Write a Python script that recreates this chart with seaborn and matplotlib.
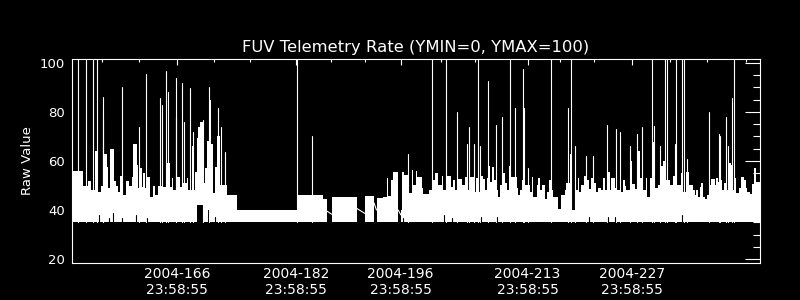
import numpy as np
import pandas as pd
import matplotlib
matplotlib.use("Agg")
import matplotlib.pyplot as plt
import seaborn as sns
from matplotlib.ticker import FixedLocator, FixedFormatter, NullFormatter

# ---------------- data ----------------
title = "FUV Telemetry Rate (YMIN=0, YMAX=100)"
ylabel = "Raw Value"
base_value = 35.0

# upper envelope of the dense telemetry band (step starts, day of year); NaN = data gap
env_day = [151.93, 153.45, 154.12, 154.43, 155.01, 155.46, 155.77, 156.13, 156.58, 156.80,
           157.02, 157.56, 157.78, 158.14, 158.37, 158.72, 159.17, 159.62, 159.93, 160.15,
           160.60, 160.82, 161.05, 161.27, 161.49, 161.72, 161.94, 162.39, 162.84, 163.06,
           163.51, 164.18, 164.62, 165.06, 165.28, 165.51, 165.95, 166.40, 166.85, 167.30,
           167.52, 167.97, 168.19, 168.41, 168.64, 168.86, 169.08, 169.53, 169.75, 170.07,
           170.33, 170.51, 170.78, 171.09, 171.41, 171.77, 172.66, 174.00, 182.13, 185.61,
           186.15, 186.73, 190.08, 191.20, 192.40, 192.75, 193.56, 194.10, 194.32, 194.63,
           194.90, 195.66, 196.02, 196.20, 196.46, 197.09, 197.45, 197.67, 197.98, 198.21,
           198.79, 199.01, 199.82, 200.35, 200.58, 201.02, 201.47, 201.69, 202.23, 202.68,
           203.04, 203.26, 203.71, 204.15, 204.60, 204.96, 205.26, 205.93, 206.15, 206.38,
           206.69, 207.05, 207.27, 207.50, 207.85, 208.03, 208.30, 208.48, 208.84, 209.06,
           209.28, 209.73, 209.95, 210.18, 210.53, 210.71, 211.52, 211.74, 211.97, 212.19,
           212.64, 213.31, 213.53, 213.75, 214.20, 214.42, 214.65, 215.00, 215.32, 215.54,
           215.85, 216.21, 216.44, 217.11, 217.55, 218.00, 218.22, 218.66, 218.93, 219.33,
           219.78, 219.91, 220.22, 220.54, 220.81, 220.98, 221.25, 221.57, 221.79, 222.15,
           222.46, 222.91, 223.13, 223.35, 223.71, 224.02, 224.25, 224.69, 224.96, 225.50,
           225.81, 226.04, 226.26, 226.84, 226.97, 227.38, 227.82, 228.05, 228.40, 228.85,
           229.03, 229.39, 229.75, 229.92, 230.10, 230.51, 230.86, 231.18, 231.40, 232.06,
           232.51, 232.95, 233.62, 233.85, 234.30, 234.65, 235.19, 235.41, 235.64, 235.86,
           236.08, 236.31, 236.53, 236.75, 237.07, 237.33, 237.65, 238.10, 238.32, 238.54,
           238.77, 239.12, 239.30, 239.57, 239.75, 240.02, 240.33, 240.55, 240.78, 241.00,
           241.31, 241.67, 241.98, 242.25, 242.47, 242.79, 243.10, 243.32, 243.68, 244.16]
env_top = [56, 50, 52, 48, 64, 47.5, 50, 62.7, 57.7, 49,
           65, 52, 50, 47.5, 54, 46, 52, 50, 53.6, 66.8,
           58.4, 49, 57, 49.5, 55, 49, 53.6, 45.4, 50, 46,
           50, 49.5, 59, 49.5, 53, 48.2, 53.6, 49.5, 51, 53,
           48.2, 66.3, 48.2, 55.7, 69.3, 74, 76, 51, 57, 68,
           84.9, 67, 46.8, 57.7, 70, 50.2, 46, 40, 46, 44.5,
           np.nan, 45.4, np.nan, 45.6, np.nan, 45, 45.4, 53, 45.9, 52.3,
           55.4, np.nan, 40, 55.7, 54.3, 46.8, 56.3, 50.2, 56, 53.6,
           48.9, 46.4, 48.2, 52.3, 55, 50.2, 54, 48.2, 54, 49.5,
           52.3, 48.2, 52.7, 50.2, 53.6, 48.2, 53.6, 47.2, 53, 47.2,
           54, 52.7, 48.2, 53.2, 58, 51.6, 57.7, 52.3, 48.2, 45.4,
           50.2, 55, 50.9, 48.2, 58, 53.6, 48.9, 46.1, 48.2, 52.3,
           50.2, 47.5, 53.6, 45.4, 50.2, 53, 48.2, 50.4, 44.7, 47.5,
           52.3, 48.2, 45.4, 40.4, 46.1, 48.2, 51, 62.9, 40, 48.2,
           53, 47.5, 50.2, 54, 55.4, 52.3, 48.6, 53, 50.9, 47.2,
           48.9, 48.2, 53, 48.2, 55.7, 48.2, 53, 48.9, 48.2, 47.2,
           52.3, 50, 48.2, 60, 50.5, 48.6, 64, 53, 48.2, 53,
           45.4, 53, 67.6, 50, 48.9, 50.2, 58, 60, 52.3, 50.2,
           54, 50.2, 55, 47.2, 55.4, 50.2, 48.2, 46.1, 48.2, 45.4,
           49.5, 50.9, 45.4, 44.5, 46.1, 50.2, 52.7, 50.2, 53, 51.6,
           52.3, 48.2, 50.9, 63.2, 48.2, 59, 58.4, 48.2, 53, 46.8,
           48.9, 53.6, 52.3, 48.9, 47.5, 46.4, 50.5, 57, 51.6, 51.6]

# isolated spikes (day, peak value); 103 = beyond top of axis
spike_day = [152.73, 153.81, 154.78, 155.32, 156.02, 156.15, 158.67, 160.95, 161.91, 163.79,
             163.99, 164.59, 164.79, 165.87, 165.93, 166.74, 166.98, 167.74, 168.18, 169.52,
             170.33, 171.53, 171.86, 172.47, 182.15, 184.16, 196.95, 200.21, 202.09, 203.56,
             204.86, 205.13, 205.80, 206.33, 206.60, 207.67, 208.74, 209.55, 210.62, 211.38,
             212.41, 212.54, 213.07, 216.12, 218.44, 218.84, 219.37, 220.90, 221.79, 223.62,
             224.87, 225.40, 226.74, 227.68, 228.31, 229.65, 230.01, 230.76, 231.49, 231.70,
             232.74, 232.91, 233.77, 234.03, 234.38, 237.33, 238.67, 238.86, 239.66, 239.88,
             240.37, 240.64]
spike_top = [103, 103, 103, 103, 77, 86, 90, 74, 95.5, 85.6,
             83, 96.8, 88, 93.8, 78, 92, 76, 89.7, 71.7, 76.7,
             90, 81.8, 74, 63.8, 103, 70, 63, 103, 103, 80,
             67, 74, 66.8, 103, 66.3, 92.7, 74.7, 78, 103, 81.5,
             97.6, 81.8, 57, 103, 81.8, 103, 66.3, 62.2, 62.2, 74.7,
             73, 71.7, 66.3, 70.9, 74, 103, 74.4, 66.3, 103, 103,
             66.8, 103, 103, 103, 60.8, 79.9, 70.9, 70, 78, 66,
             85.6, 103]

# thin dips from the baseline (day, value reached)
notch_day = [155.59, 156.93, 157.47, 158.68, 160.47, 162.03, 171.09, 196.24, 201.78, 202.90,
             206.82, 208.93, 221.25, 223.80, 224.69, 233.71]
notch_top = [38, 36.6, 38.6, 36.6, 38, 36.6, 37.3, 36.6, 38, 36.6,
             37.3, 37.3, 37.3, 37.3, 37.3, 38]

# wider holes above the baseline
hole_start = [168.68, 170.16]
hole_end = [169.55, 170.49]
hole_top = [42, 40]

# data gaps bridged by a single line
gap_start = [186.15, 190.08, 192.40, 195.66]
gap_end = [186.73, 191.20, 192.75, 196.02]
gap_v0 = [39.5, 40.7, 43, 40]
gap_v1 = [38.3, 38.6, 40, 38]

# axis
xtick_major = [166, 182, 196, 213, 227]
xtick_labels = ["2004-166\n23:58:55", "2004-182\n23:58:55", "2004-196\n23:58:55",
                "2004-213\n23:58:55", "2004-227\n23:58:55"]
xtick_minor = [155.95, 160.91, 170.96, 175.79, 186.64, 191.20, 201.39, 205.95,
               217.34, 221.90, 232.09, 237.05, 242.28]
ytick_major = [20, 40, 60, 80, 100]
ytick_minor = [25, 30, 35, 45, 50, 55, 65, 70, 75, 85, 90, 95]
xlim = (151.93, 244.16)
ylim = (18.4, 101.6)

# ---------------- figure ----------------
sns.set_style("dark")
plt.rcParams["font.family"] = ["DejaVu Sans"]

fig = plt.figure(figsize=(8, 3), dpi=100, facecolor="black")
ax = fig.add_axes([72 / 800, 1 - 263 / 300, 688 / 800, 204 / 300])
ax.set_facecolor("black")
ax.grid(False)

# body of the band, drawn run by run between data gaps
days = np.asarray(env_day, dtype=float)
tops = np.asarray(env_top, dtype=float)
valid = ~np.isnan(tops)
i = 0
n = len(days)
while i < n:
    if not valid[i]:
        i += 1
        continue
    j = i
    while j + 1 < n and valid[j + 1]:
        j += 1
    xs = list(days[i:j + 1])
    ys = list(tops[i:j + 1])
    if j + 1 < n:
        xs.append(days[j + 1])
        ys.append(tops[j])
    ax.fill_between(xs, base_value, ys, step="post", color="white", lw=0, zorder=2)
    i = j + 1

# holes in the band
for s, e, t in zip(hole_start, hole_end, hole_top):
    ax.fill_between([s, e], base_value, t, color="black", lw=0, zorder=3)

# spikes
spk = pd.DataFrame({
    "day": np.repeat(spike_day, 2),
    "value": np.ravel(np.column_stack([np.full(len(spike_top), base_value), spike_top])),
    "id": np.repeat(np.arange(len(spike_day)), 2),
})
sns.lineplot(data=spk, x="day", y="value", units="id", estimator=None, sort=False,
             color="white", lw=0.8, legend=False, ax=ax, zorder=4)

# gap bridges
gp = pd.DataFrame({
    "day": np.ravel(np.column_stack([gap_start, gap_end])),
    "value": np.ravel(np.column_stack([gap_v0, gap_v1])),
    "id": np.repeat(np.arange(len(gap_start)), 2),
})
sns.lineplot(data=gp, x="day", y="value", units="id", estimator=None, sort=False,
             color="white", lw=0.8, legend=False, ax=ax, zorder=4)

# thin dips
nt = pd.DataFrame({
    "day": np.repeat(notch_day, 2),
    "value": np.ravel(np.column_stack([np.full(len(notch_top), base_value - 0.3), notch_top])),
    "id": np.repeat(np.arange(len(notch_day)), 2),
})
sns.lineplot(data=nt, x="day", y="value", units="id", estimator=None, sort=False,
             color="black", lw=0.8, legend=False, ax=ax, zorder=5)

ax.set_xlim(*xlim)
ax.set_ylim(*ylim)

ax.xaxis.set_major_locator(FixedLocator(xtick_major))
ax.xaxis.set_major_formatter(FixedFormatter(xtick_labels))
ax.xaxis.set_minor_locator(FixedLocator(xtick_minor))
ax.xaxis.set_minor_formatter(NullFormatter())
ax.yaxis.set_major_locator(FixedLocator(ytick_major))
ax.yaxis.set_minor_locator(FixedLocator(ytick_minor))
ax.yaxis.set_minor_formatter(NullFormatter())

ax.tick_params(axis="both", which="both", direction="in", top=True, right=True,
               color="white", labelcolor="white", width=0.8)
ax.tick_params(axis="x", which="major", length=4.5, pad=3, labelsize=10)
ax.tick_params(axis="x", which="minor", length=2.5)
ax.tick_params(axis="y", which="major", length=10.5, pad=5, labelsize=9.5)
ax.tick_params(axis="y", which="minor", length=5.2)
for lbl in ax.get_xticklabels():
    lbl.set_linespacing(1.2)

for sp in ax.spines.values():
    sp.set_color("white")
    sp.set_linewidth(0.8)
    sp.set_zorder(6)

ax.set_xlabel("")
ax.set_ylabel(ylabel, color="white", fontsize=9.5, labelpad=4)
ax.set_title(title, color="white", fontsize=11.8, pad=5)

fig.savefig("out.png", dpi=100, facecolor="black")
